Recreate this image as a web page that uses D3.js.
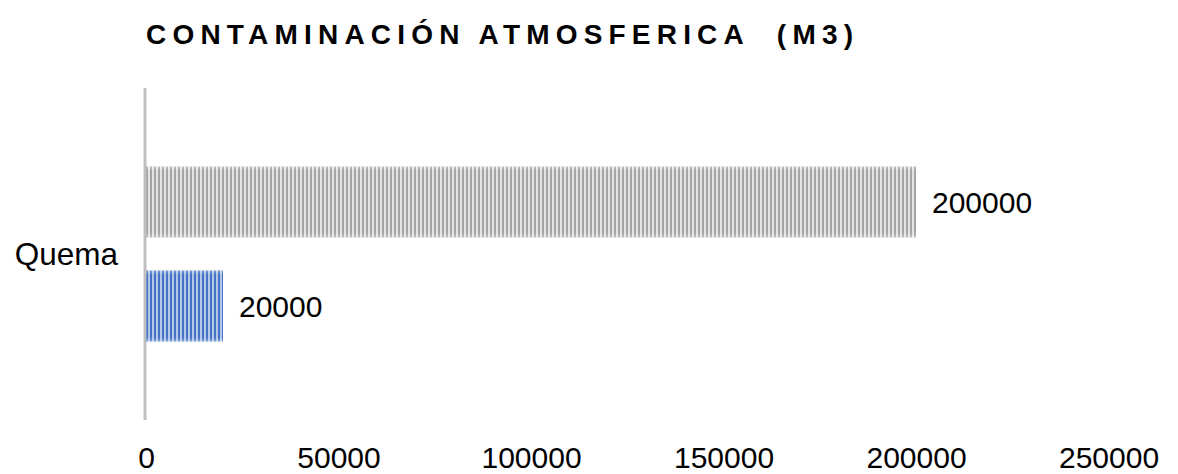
<!DOCTYPE html>
<html>
<head>
<meta charset="utf-8">
<script src="https://cdn.jsdelivr.net/npm/d3@7"></script>
<style>
  html, body { margin: 0; padding: 0; background: #ffffff; }
  svg { display: block; }
  text { font-family: "Liberation Sans", Arial, sans-serif; fill: #000; }
  .title { white-space: pre; }
</style>
</head>
<body>
<svg id="chart" width="1178" height="474"></svg>
<script>
// Chart data
const title = "CONTAMINACIÓN ATMOSFERICA  (M3)";
const categories = ["Quema"];
const seriesNames = ["Serie 2", "Serie 1"];          // drawn top to bottom
const seriesValues = { "Serie 1": [20000], "Serie 2": [200000] };
const tickValues = [0, 50000, 100000, 150000, 200000, 250000];
const xMax = 250000;

// Stripe colours per series: [dark, light]
const stripeColors = { "Serie 1": ["#4472c4", "#b3c6ea"], "Serie 2": ["#a5a5a5", "#e4e4e4"] };

const svg = d3.select("#chart");
const plot = { left: 146, right: 1108.5, top: 88, bottom: 420 };

const x = d3.scaleLinear().domain([0, xMax]).range([plot.left, plot.right]);
const y = d3.scaleBand().domain(categories).range([plot.top, plot.bottom]).padding(0);
const ySub = d3.scaleBand().domain(seriesNames).range([0, y.bandwidth()])
  .paddingInner(0.317).paddingOuter(0.755);

// Vertical stripe patterns with a soft fade at the top and bottom edges
const defs = svg.append("defs");
const fade = defs.append("linearGradient").attr("id", "edgeFade")
  .attr("x1", 0).attr("y1", 0).attr("x2", 0).attr("y2", 1);
fade.append("stop").attr("offset", "0%").attr("stop-color", "#fff").attr("stop-opacity", 0.35);
fade.append("stop").attr("offset", "6%").attr("stop-color", "#fff").attr("stop-opacity", 0);
fade.append("stop").attr("offset", "94%").attr("stop-color", "#fff").attr("stop-opacity", 0);
fade.append("stop").attr("offset", "100%").attr("stop-color", "#fff").attr("stop-opacity", 0.35);

seriesNames.forEach((s, i) => {
  const p = defs.append("pattern").attr("id", "stripe" + i)
    .attr("patternUnits", "userSpaceOnUse").attr("width", 4).attr("height", 4)
    .attr("x", plot.left);
  p.append("rect").attr("width", 4).attr("height", 4).attr("fill", stripeColors[s][1]);
  p.append("rect").attr("width", 2).attr("height", 4).attr("fill", stripeColors[s][0]);
});

// Bars
categories.forEach((c, ci) => {
  seriesNames.forEach((s, si) => {
    const v = seriesValues[s][ci];
    const by = y(c) + ySub(s);
    const bw = x(v) - x(0);
    svg.append("rect").attr("x", x(0)).attr("y", by)
      .attr("width", bw).attr("height", ySub.bandwidth())
      .attr("fill", "url(#stripe" + si + ")");
    svg.append("rect").attr("x", x(0)).attr("y", by)
      .attr("width", bw).attr("height", ySub.bandwidth())
      .attr("fill", "url(#edgeFade)");
    // Value label
    svg.append("text").attr("x", x(v) + 16).attr("y", by + ySub.bandwidth() / 2 + 11)
      .attr("font-size", 30).text(String(v));
  });
});

// Vertical axis line
svg.append("line").attr("x1", x(0) - 1).attr("x2", x(0) - 1)
  .attr("y1", plot.top).attr("y2", plot.bottom)
  .attr("stroke", "#bfbfbf").attr("stroke-width", 3);

// Category label
categories.forEach(c => {
  svg.append("text").attr("x", 118).attr("y", y(c) + y.bandwidth() / 2 + 11)
    .attr("text-anchor", "end").attr("font-size", 31.5).text(c);
});

// Horizontal axis tick labels (no axis line or ticks)
const xAxis = d3.axisBottom(x).tickValues(tickValues).tickSize(0).tickPadding(0)
  .tickFormat(d => String(d));
const gx = svg.append("g").attr("transform", `translate(0, 468)`).call(xAxis);
gx.select(".domain").remove();
gx.selectAll("text").attr("font-size", 30).attr("font-family", "Liberation Sans, Arial, sans-serif")
  .attr("fill", "#000").attr("dy", 0);

// Title
svg.append("text").attr("class", "title").attr("x", 146).attr("y", 44)
  .attr("font-size", 28).attr("font-weight", "bold")
  .attr("textLength", 707).attr("lengthAdjust", "spacing")
  .text(title);
</script>
</body>
</html>
